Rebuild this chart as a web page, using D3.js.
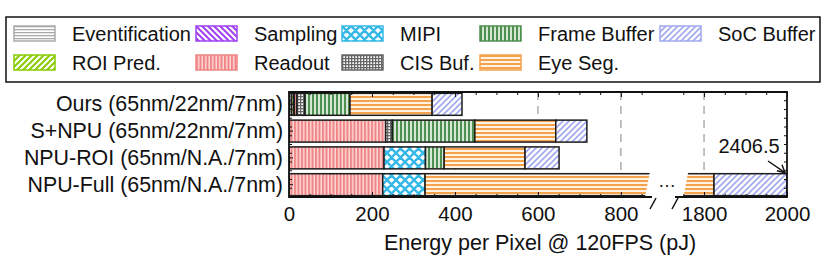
<!DOCTYPE html>
<html>
<head>
<meta charset="utf-8">
<script src="https://cdn.jsdelivr.net/npm/d3@7"></script>
<style>
  body { margin: 0; background: #fff; }
  svg text { font-family: "Liberation Sans", Arial, sans-serif; fill: #111; }
</style>
</head>
<body>
<div class="chart"></div>
<script>
// data (pJ per pixel)
const systems = ['Ours (65nm/22nm/7nm)', 'S+NPU (65nm/22nm/7nm)', 'NPU-ROI (65nm/N.A./7nm)', 'NPU-Full (65nm/N.A./7nm)'];
const components = ['Eventification', 'ROI Pred.', 'Sampling', 'Readout', 'MIPI', 'CIS Buf.', 'Frame Buffer', 'Eye Seg.', 'SoC Buffer'];
const eventification = [6, 0, 0, 0];
const roiPred = [5, 0, 0, 0];
const sampling = [2, 1, 0, 0];
const readout = [6, 232, 229, 226];
const mipi = [0, 0, 100, 102];
const cisBuf = [19.5, 16, 0, 0];
const frameBuffer = [108.5, 199, 45, 0];
const eyeSeg = [198, 195, 195, 1496];
const socBuffer = [72, 75, 82, 582.5];
const majorTicks = [0, 200, 400, 600, 800, 1800, 2000];
const annotation = '2406.5';

const seriesValues = [eventification, roiPred, sampling, readout, mipi, cisBuf, frameBuffer, eyeSeg, socBuffer];
const table = systems.map((s, i) => {
    const row = { system: s };
    components.forEach((c, j) => { row[c] = seriesValues[j][i]; });
    return row;
});

const width = 830, height = 261;
const plotL = 289, plotR = 787, plotT = 92, plotB = 197;
const axisMax = 2000;

// broken axis: 875..1730 squeezed into a small gap
const x = d3.scaleLinear().domain([0, 875, 1730, axisMax]).range([plotL, 652, 675, plotR]);
const y = d3.scaleBand().domain(systems).range([plotT, plotB]).paddingInner(0.18).paddingOuter(0.05);

const svg = d3.select('.chart').append('svg')
    .attr('width', width).attr('height', height);
const defs = svg.append('defs');

// hatch patterns
function pattern(id, w, h, bg) {
    const p = defs.append('pattern').attr('id', id)
        .attr('patternUnits', 'userSpaceOnUse').attr('width', w).attr('height', h);
    p.append('rect').attr('width', w).attr('height', h).attr('fill', bg);
    return p;
}
let p;
p = pattern('p0', 4, 3, '#fff');
p.append('rect').attr('y', 0).attr('width', 4).attr('height', 1.3).attr('fill', '#aaa');
p = pattern('p1', 6, 6, '#fff');
p.append('path').attr('d', 'M-1,7 L7,-1 M-1,1 L1,-1 M5,7 L7,5').attr('stroke', '#88cc00').attr('stroke-width', 2);
p = pattern('p2', 6, 6, '#fff');
p.append('path').attr('d', 'M-1,-1 L7,7 M5,-1 L7,1 M-1,5 L1,7').attr('stroke', '#a040f0').attr('stroke-width', 2);
p = pattern('p3', 3.5, 4, '#fdd8d8');
p.append('rect').attr('width', 2).attr('height', 4).attr('fill', '#f08585');
p = pattern('p4', 9, 9, '#fff');
p.append('path').attr('d', 'M-1,-1 L10,10 M-1,10 L10,-1 M-1,8 L1,10 M8,-1 L10,1 M-1,1 L1,-1 M8,10 L10,8').attr('stroke', '#35b8e8').attr('stroke-width', 2.4);
p = pattern('p5', 3, 3, '#fff');
p.append('path').attr('d', 'M0,0.5 H3 M0.5,0 V3').attr('stroke', '#666').attr('stroke-width', 1.6);
p = pattern('p6', 4, 4, '#d5e8d5');
p.append('rect').attr('width', 2).attr('height', 4).attr('fill', '#4f8f4f');
p = pattern('p7', 4, 4, '#fff3e6');
p.append('rect').attr('width', 4).attr('height', 2).attr('fill', '#f5a24c');
p = pattern('p8', 6, 6, '#fff');
p.append('path').attr('d', 'M-1,7 L7,-1 M-1,1 L1,-1 M5,7 L7,5').attr('stroke', '#a0a8f0').attr('stroke-width', 1.6);

const edgeColors = ['#aaa', '#88cc00', '#a040f0', '#f08585', '#35b8e8', '#666', '#4f8f4f', '#f5a24c', '#a0a8f0'];

// grid lines
svg.append('g').selectAll('line')
    .data(majorTicks.filter(t => t > 0 && t < axisMax))
    .enter().append('line')
    .attr('x1', d => x(d)).attr('x2', d => x(d))
    .attr('y1', plotT).attr('y2', plotB)
    .attr('stroke', '#999').attr('stroke-width', 1.2).attr('stroke-dasharray', '8,6');

// bars
defs.append('clipPath').attr('id', 'plotclip')
    .append('rect').attr('x', plotL).attr('y', plotT - 2).attr('width', plotR - plotL).attr('height', plotB - plotT + 4);

const stacked = d3.stack().keys(components)(table);
const barG = svg.append('g').attr('clip-path', 'url(#plotclip)');
stacked.forEach((layer, j) => {
    barG.append('g').selectAll('rect')
        .data(layer.filter(d => d[1] - d[0] > 0))
        .enter().append('rect')
        .attr('x', d => x(d[0]))
        .attr('y', d => y(d.data.system))
        .attr('width', d => x(Math.min(d[1], axisMax)) - x(d[0]))
        .attr('height', y.bandwidth())
        .attr('fill', `url(#p${j})`)
        .attr('stroke', '#1c1c1c')
        .attr('stroke-width', 1.5);
});

// break in the long bar
const longBar = systems[3];
const by0 = y(longBar) - 2, by1 = y(longBar) + y.bandwidth() + 2;
svg.append('polygon')
    .attr('points', [[x(870), by0], [x(1762), by0], [x(1762) - 5, by1], [x(870) - 5, by1]].map(d => d.join(',')).join(' '))
    .attr('fill', '#fff');
svg.append('text')
    .attr('x', (x(870) + x(1762)) / 2 - 2).attr('y', y(longBar) + y.bandwidth() / 2 + 2)
    .attr('text-anchor', 'middle').attr('font-size', 18).text('\u2026');

// axes
const font = 20;
const xAxis = svg.append('g').attr('transform', `translate(0,${plotB})`)
    .call(d3.axisBottom(x).tickValues(majorTicks).tickFormat(d3.format('d'))
        .tickSizeInner(-5).tickSizeOuter(0).tickPadding(9));
xAxis.select('.domain').remove();
xAxis.selectAll('text').attr('font-size', 20.5);
const minorTicks = d3.range(50, 875, 50).concat(d3.range(1750, 2000, 50)).filter(t => t % 200 !== 0);
svg.append('g').attr('transform', `translate(0,${plotB})`)
    .call(d3.axisBottom(x).tickValues(minorTicks).tickSize(-3).tickFormat(''))
    .select('.domain').remove();
svg.append('g').attr('transform', `translate(0,${plotT})`)
    .call(d3.axisTop(x).tickValues(majorTicks).tickSize(-5).tickFormat(''))
    .select('.domain').remove();
svg.append('g').attr('transform', `translate(0,${plotT})`)
    .call(d3.axisTop(x).tickValues(minorTicks).tickSize(-3).tickFormat(''))
    .select('.domain').remove();

const yAxis = svg.append('g').attr('transform', `translate(${plotL},0)`)
    .call(d3.axisLeft(y).tickSizeInner(-4).tickSizeOuter(0).tickPadding(6));
yAxis.select('.domain').remove();
yAxis.selectAll('text').attr('font-size', 21.4);
const yMinor = d3.range(1, 12).map(i => plotT + i * (plotB - plotT) / 12);
svg.append('g').selectAll('line').data(yMinor).enter().append('line')
    .attr('x1', plotR - 3).attr('x2', plotR).attr('y1', d => d).attr('y2', d => d)
    .attr('stroke', '#111');
svg.append('g').selectAll('line').data(yMinor).enter().append('line')
    .attr('x1', plotL).attr('x2', plotL + 3).attr('y1', d => d).attr('y2', d => d)
    .attr('stroke', '#111');
svg.selectAll('.tick line').attr('stroke', '#111');

// frame with broken bottom
const frame = svg.append('g').attr('stroke', '#111').attr('stroke-width', 1.8).attr('fill', 'none');
frame.append('path').attr('d', `M${x(875)},${plotB} H${plotL} V${plotT} H${plotR} V${plotB} H${x(1730)}`);
frame.append('path').attr('d', `M${x(875) - 2},${plotB + 12} L${x(875) + 4},${plotB + 1}`).attr('stroke-width', 1.5);
frame.append('path').attr('d', `M${x(1730) - 3},${plotB + 12} L${x(1730) + 3},${plotB + 1}`).attr('stroke-width', 1.5);

svg.append('text')
    .attr('x', (plotL + plotR) / 2 + 2).attr('y', 250)
    .attr('text-anchor', 'middle').attr('font-size', 21.5)
    .text('Energy per Pixel @ 120FPS (pJ)');

// annotation for the clipped bar
svg.append('text').attr('x', 749).attr('y', 153)
    .attr('text-anchor', 'middle').attr('font-size', 20).text(annotation);
const ann = svg.append('g').attr('stroke', '#111').attr('stroke-width', 1.4).attr('fill', 'none');
ann.append('path').attr('d', `M768,161 L${plotR - 2},${y(longBar) - 1}`);
ann.append('path').attr('d', `M${plotR - 10},${y(longBar) - 3} L${plotR - 2},${y(longBar) - 1} L${plotR - 5},${y(longBar) - 9}`);

// legend
const legend = svg.append('g');
legend.append('rect').attr('x', 6).attr('y', 17).attr('width', 814).attr('height', 65)
    .attr('fill', '#fff').attr('stroke', '#111').attr('stroke-width', 1.5);
const colX = [14, 196, 342, 480, 660];
components.forEach((c, j) => {
    const col = Math.floor(j / 2), row = j % 2;
    const g = legend.append('g').attr('transform', `translate(${colX[col]},${26 + row * 29})`);
    g.append('rect').attr('width', 41).attr('height', 15)
        .attr('fill', `url(#p${j})`).attr('stroke', edgeColors[j]).attr('stroke-width', 1.5);
    g.append('text').attr('x', 58).attr('y', 14.5).attr('font-size', font).text(c);
});
</script>
</body>
</html>
